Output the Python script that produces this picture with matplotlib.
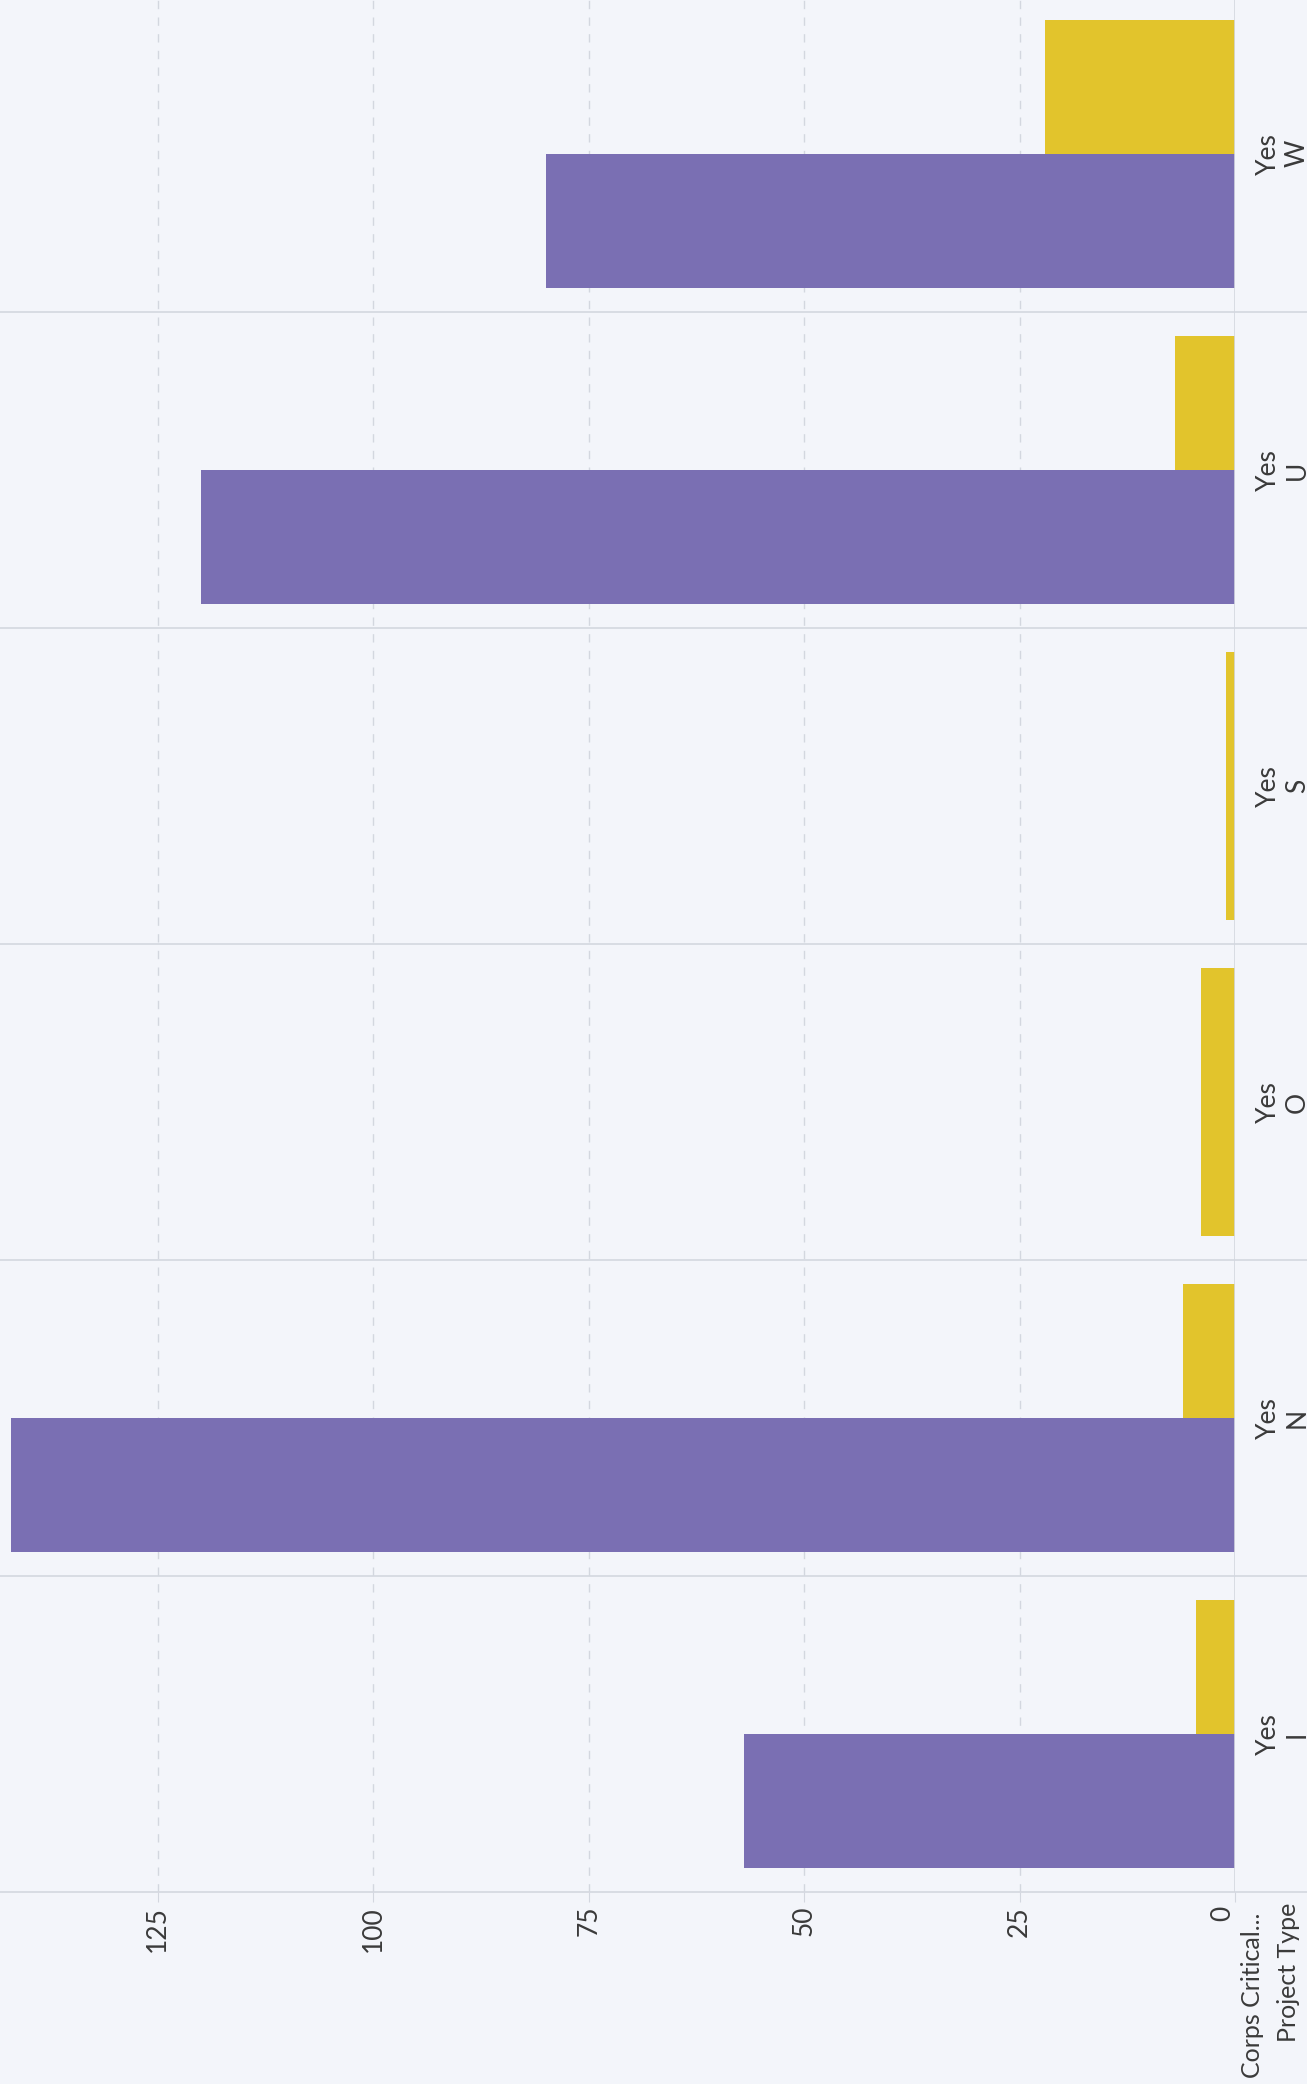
import numpy as np
import matplotlib
matplotlib.use("Agg")
import matplotlib.pyplot as plt
from matplotlib.transforms import ScaledTranslation

# categories from bottom to top
project_types = ["I", "N", "O", "S", "U", "W"]
corps_critical = ["Yes", "Yes", "Yes", "Yes", "Yes", "Yes"]
# lower bar and upper bar of each category
lower_vals = [57, 142, 4, 1, 120, 80]
upper_vals = [4.5, 6, 4, 1, 7, 22]
purple = "#7a6fb3"
yellow = "#e2c42c"
lower_cols = [purple, purple, yellow, yellow, purple, purple]
upper_cols = [yellow, yellow, yellow, yellow, yellow, yellow]
ticks = [0, 25, 50, 75, 100, 125]

plt.rcParams['font.family'] = ['Lato', 'DejaVu Sans']
txt = "#3a3a3a"
grid = "#d3d7df"
bg = "#f3f5fa"

fig = plt.figure(figsize=(13.07, 20.84), dpi=100, facecolor=bg)
ax = fig.add_axes([0.0, 0.0921, 0.945, 0.9099])
ax.set_facecolor(bg)

y = np.arange(len(project_types))
h = 0.425
ax.barh(y - h / 2, lower_vals, height=h, color=lower_cols, zorder=3)
ax.barh(y + h / 2, upper_vals, height=h, color=upper_cols, zorder=3)

ax.set_xlim(143.3, 0)
ax.set_ylim(-0.5, 5.5)

for t in ticks[1:]:
    ax.axvline(t, color=grid, lw=1, ls=(0, (6, 6)), zorder=1)
ax.axvline(0, color=grid, lw=1.2, zorder=4)
for k in range(len(project_types) + 1):
    ax.axhline(k - 0.5, xmin=0, xmax=1.06, color=grid, lw=1.2, clip_on=False, zorder=2)

for s in ax.spines.values():
    s.set_visible(False)

ax.set_xticks(ticks)
ax.set_xticklabels([str(t) for t in ticks], rotation=90, fontsize=19, color=txt)
ax.tick_params(axis='x', length=7, color=grid, pad=3)
ax.set_yticks([])
# zero label sits a little left of the baseline
zl = ax.get_xticklabels()[0]
zl.set_transform(zl.get_transform() + ScaledTranslation(-12 / 100, 0, fig.dpi_scale_trans))

for i in range(len(project_types)):
    yf = 0.0921 + 0.9099 * (i + 0.5) / 6
    fig.text(0.9705, yf, corps_critical[i], rotation=90, ha='center', va='center',
             fontsize=19, color=txt)
    fig.text(0.9925, yf, project_types[i], rotation=90, ha='center', va='center',
             fontsize=19, color=txt)

fig.text(0.958, 0.082, "Corps Critical...", rotation=90, ha='center', va='top',
         fontsize=18, color=txt)
fig.text(0.986, 0.087, "Project Type", rotation=90, ha='center', va='top',
         fontsize=18, color=txt)

fig.savefig("out.png", dpi=100, facecolor=bg)
